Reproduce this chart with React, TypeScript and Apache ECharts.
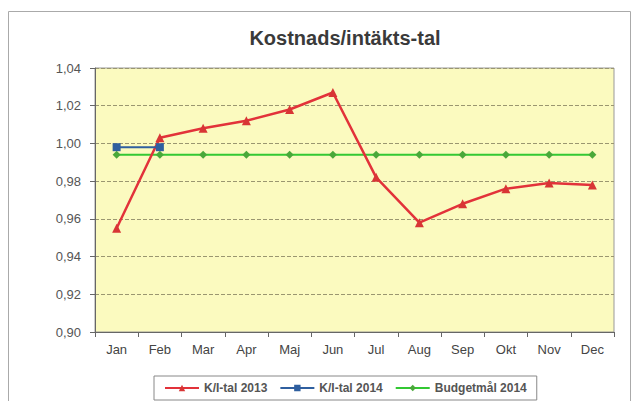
import React, { useEffect, useRef } from "react";
import * as echarts from "echarts";

const months = ["Jan", "Feb", "Mar", "Apr", "Maj", "Jun", "Jul", "Aug", "Sep", "Okt", "Nov", "Dec"];
const ki2013 = [0.955, 1.003, 1.008, 1.012, 1.018, 1.027, 0.982, 0.958, 0.968, 0.976, 0.979, 0.978];
const ki2014 = [0.998, 0.998, null, null, null, null, null, null, null, null, null, null];
const budget2014 = [0.994, 0.994, 0.994, 0.994, 0.994, 0.994, 0.994, 0.994, 0.994, 0.994, 0.994, 0.994];

export default function App() {
  const ref = useRef<HTMLDivElement>(null);
  useEffect(() => {
    if (!ref.current) return;
    const chart = echarts.init(ref.current, undefined, { renderer: "svg" });
    const font = "Liberation Sans, Arial, sans-serif";
    chart.setOption({
      animation: false,
      backgroundColor: "#ffffff",
      title: {
        text: "Kostnads/intäkts-tal",
        left: 340,
        textAlign: "center",
        top: 23,
        textStyle: { fontFamily: font, fontSize: 20, fontWeight: "bold", color: "#3a3a3a" },
      },
      graphic: [
        {
          type: "rect",
          shape: { x: 0, y: 0, width: 640, height: 5 },
          style: { fill: "#f3e27a" },
          silent: true,
        },
        {
          type: "rect",
          shape: { x: 8.5, y: 11.5, width: 622, height: 394 },
          style: { fill: "none", stroke: "#aaaaaa", lineWidth: 1 },
          silent: true,
        },
        {
          type: "rect",
          shape: { x: 95, y: 68, width: 519, height: 264 },
          style: { fill: "#fbfabf", stroke: "#999999", lineWidth: 1 },
          silent: true,
          z: -1,
        },
      ],
      grid: { left: 95, right: 26, top: 68, bottom: 77, containLabel: false },
      legend: {
        bottom: 9,
        left: 154,
        width: 374,
        itemGap: 12,
        padding: [6, 10],
        borderColor: "#888888",
        borderWidth: 1,
        itemWidth: 34,
        itemHeight: 8,
        textStyle: { fontFamily: font, fontSize: 12, fontWeight: "bold", color: "#555555" },
        data: ["K/I-tal 2013", "K/I-tal 2014", "Budgetmål 2014"],
      },
      xAxis: {
        type: "category",
        data: months,
        boundaryGap: true,
        axisLine: { lineStyle: { color: "#666666" } },
        axisTick: { show: true, alignWithLabel: false, length: 5, lineStyle: { color: "#666666" } },
        axisLabel: { fontFamily: font, fontSize: 13, color: "#444444", margin: 11 },
      },
      yAxis: {
        type: "value",
        min: 0.9,
        max: 1.04,
        interval: 0.02,
        axisLine: { show: true, lineStyle: { color: "#666666" } },
        axisTick: { show: true, length: 5, lineStyle: { color: "#666666" } },
        axisLabel: {
          fontFamily: font,
          fontSize: 13,
          color: "#555555",
          margin: 14,
          formatter: (v: number) => v.toFixed(2).replace(".", ","),
        },
        splitLine: { show: true, lineStyle: { color: "#9a9670", type: "dashed", width: 1 } },
      },
      series: [
        {
          name: "K/I-tal 2013",
          type: "line",
          data: ki2013,
          color: "#e2323a",
          lineStyle: { width: 2.5, color: "#e2323a" },
          symbol: "triangle",
          symbolSize: 9,
          itemStyle: { color: "#d83535" },
          z: 3,
        },
        {
          name: "K/I-tal 2014",
          type: "line",
          data: ki2014,
          color: "#2f5f9f",
          lineStyle: { width: 2, color: "#2f5f9f" },
          symbol: "rect",
          symbolSize: 8,
          itemStyle: { color: "#2f5f9f" },
          z: 4,
        },
        {
          name: "Budgetmål 2014",
          type: "line",
          data: budget2014,
          color: "#33c833",
          lineStyle: { width: 2, color: "#33c833" },
          symbol: "diamond",
          symbolSize: 8,
          itemStyle: { color: "#4aa83a" },
          z: 2,
        },
      ],
    });
    return () => chart.dispose();
  }, []);
  return <div ref={ref} style={{ width: 640, height: 409, margin: -8 }} />;
}
